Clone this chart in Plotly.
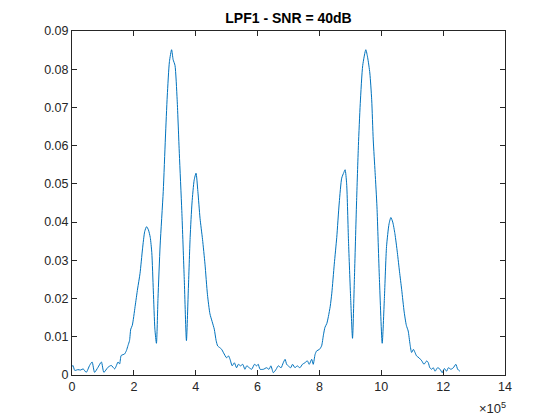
import plotly.graph_objects as go

# frequency in units of 1e5 and magnitude
freq_e5 = [0.00, 0.03, 0.09, 0.19, 0.28, 0.36, 0.46, 0.57, 0.65, 0.73, 0.84, 0.95, 1.03, 1.16, 1.27, 1.38,
           1.49, 1.54, 1.59, 1.70, 1.76, 1.81, 1.86, 1.90, 1.95, 2.04, 2.12, 2.20, 2.28, 2.35, 2.41, 2.47,
           2.53, 2.58, 2.63, 2.68, 2.73, 2.78, 2.85, 2.95, 3.02, 3.08, 3.15, 3.22, 3.27, 3.33, 3.40, 3.47,
           3.55, 3.63, 3.70, 3.76, 3.82, 3.88, 3.95, 4.01, 4.07, 4.14, 4.22, 4.30, 4.38, 4.46, 4.53, 4.60,
           4.66, 4.71, 4.77, 4.84, 4.90, 5.00, 5.06, 5.11, 5.18, 5.25, 5.32, 5.38, 5.45, 5.52, 5.59, 5.65,
           5.73, 5.81, 5.90, 5.97, 6.02, 6.08, 6.19, 6.29, 6.37, 6.43, 6.51, 6.60, 6.67, 6.76, 6.83, 6.89,
           6.94, 6.99, 7.07, 7.13, 7.21, 7.28, 7.37, 7.45, 7.53, 7.61, 7.67, 7.75, 7.80, 7.86, 7.91, 8.00,
           8.07, 8.13, 8.18, 8.24, 8.29, 8.35, 8.40, 8.48, 8.56, 8.64, 8.72, 8.79, 8.83, 8.88, 8.94, 9.01,
           9.07, 9.13, 9.20, 9.26, 9.32, 9.40, 9.50, 9.56, 9.63, 9.69, 9.74, 9.80, 9.86, 9.94, 10.03, 10.10,
           10.17, 10.25, 10.31, 10.37, 10.44, 10.52, 10.59, 10.66, 10.74, 10.81, 10.87, 10.93, 10.98, 11.04,
           11.09, 11.14, 11.22, 11.31, 11.38, 11.47, 11.52, 11.57, 11.63, 11.68, 11.74, 11.82, 11.90, 11.97,
           12.04, 12.11, 12.17, 12.25, 12.33, 12.41, 12.47, 12.54]
magnitude = [0.0022, 0.0025, 0.0012, 0.0014, 0.0013, 0.0016, 0.0007, 0.0025, 0.0034, 0.0007, 0.0020, 0.0034,
             0.0007, 0.0020, 0.0025, 0.0016, 0.0034, 0.0029, 0.0051, 0.0055, 0.0064, 0.0077, 0.0090, 0.0120,
             0.0130, 0.0179, 0.0225, 0.0266, 0.0330, 0.0375, 0.0388, 0.0380, 0.0360, 0.0320, 0.0220, 0.0120,
             0.0083, 0.0200, 0.0340, 0.0480, 0.0620, 0.0730, 0.0820, 0.0851, 0.0825, 0.0810, 0.0720, 0.0580,
             0.0430, 0.0250, 0.0090, 0.0220, 0.0360, 0.0450, 0.0510, 0.0528, 0.0480, 0.0410, 0.0355, 0.0290,
             0.0210, 0.0160, 0.0140, 0.0120, 0.0090, 0.0076, 0.0072, 0.0067, 0.0058, 0.0045, 0.0050, 0.0041,
             0.0024, 0.0032, 0.0019, 0.0028, 0.0024, 0.0028, 0.0015, 0.0024, 0.0019, 0.0015, 0.0028, 0.0024,
             0.0028, 0.0015, 0.0015, 0.0019, 0.0015, 0.0024, 0.0006, 0.0015, 0.0024, 0.0019, 0.0032, 0.0041,
             0.0028, 0.0024, 0.0019, 0.0028, 0.0019, 0.0024, 0.0019, 0.0028, 0.0032, 0.0037, 0.0028, 0.0041,
             0.0028, 0.0054, 0.0063, 0.0067, 0.0076, 0.0105, 0.0125, 0.0135, 0.0153, 0.0180, 0.0214, 0.0290,
             0.0360, 0.0450, 0.0515, 0.0530, 0.0537, 0.0500, 0.0350, 0.0200, 0.0096, 0.0250, 0.0450, 0.0600,
             0.0710, 0.0810, 0.0851, 0.0830, 0.0790, 0.0720, 0.0615, 0.0530, 0.0440, 0.0250, 0.0083, 0.0200,
             0.0336, 0.0395, 0.0412, 0.0400, 0.0370, 0.0320, 0.0270, 0.0223, 0.0165, 0.0130, 0.0115, 0.0080,
             0.0059, 0.0067, 0.0059, 0.0050, 0.0045, 0.0037, 0.0028, 0.0037, 0.0032, 0.0019, 0.0015, 0.0019,
             0.0010, 0.0019, 0.0015, 0.0006, 0.0017, 0.0010, 0.0019, 0.0015, 0.0019, 0.0028, 0.0015, 0.0010]

x_tick_vals_e5 = [0, 2, 4, 6, 8, 10, 12, 14]
x_tick_text = ["0", "2", "4", "6", "8", "10", "12", "14"]
y_tick_vals = [0, 0.01, 0.02, 0.03, 0.04, 0.05, 0.06, 0.07, 0.08, 0.09]
y_tick_text = ["0", "0.01", "0.02", "0.03", "0.04", "0.05", "0.06", "0.07", "0.08", "0.09"]

freq = [f * 1e5 for f in freq_e5]
axis_col = "#262626"
font_fam = "Liberation Sans, Arial, sans-serif"

fig = go.Figure(go.Scatter(x=freq, y=magnitude, mode="lines",
                           line=dict(color="#0072BD", width=1, shape="spline", smoothing=0.6),
                           hoverinfo="skip"))

common = dict(showgrid=False, zeroline=False, showline=True, mirror="ticks", linecolor=axis_col,
              linewidth=1, ticks="inside", ticklen=5, tickcolor=axis_col, tickwidth=1,
              tickfont=dict(family=font_fam, size=12.5, color=axis_col))
fig.update_xaxes(range=[0, 14e5], tickvals=[v * 1e5 for v in x_tick_vals_e5], ticktext=x_tick_text, **common)
fig.update_yaxes(range=[0, 0.09], tickvals=y_tick_vals, ticktext=y_tick_text, **common)

fig.update_layout(
    width=552, height=412,
    margin=dict(l=64, r=55, t=23, b=45),
    paper_bgcolor="white", plot_bgcolor="white",
    showlegend=False,
    title=dict(text="<b>LPF1 - SNR = 40dB</b>", x=0.5, xref="paper", xanchor="center",
               y=1 - 10 / 412, yref="container", yanchor="middle",
               font=dict(family=font_fam, size=14, color="black")),
    annotations=[dict(text="\u00d710<sup>5</sup>", x=1.0, xref="paper",
                      xshift=3, y=0, yref="paper",
                      yshift=-23, xanchor="right", yanchor="top", showarrow=False,
                      font=dict(family=font_fam, size=13, color=axis_col))],
)

fig.write_html("out.html")
